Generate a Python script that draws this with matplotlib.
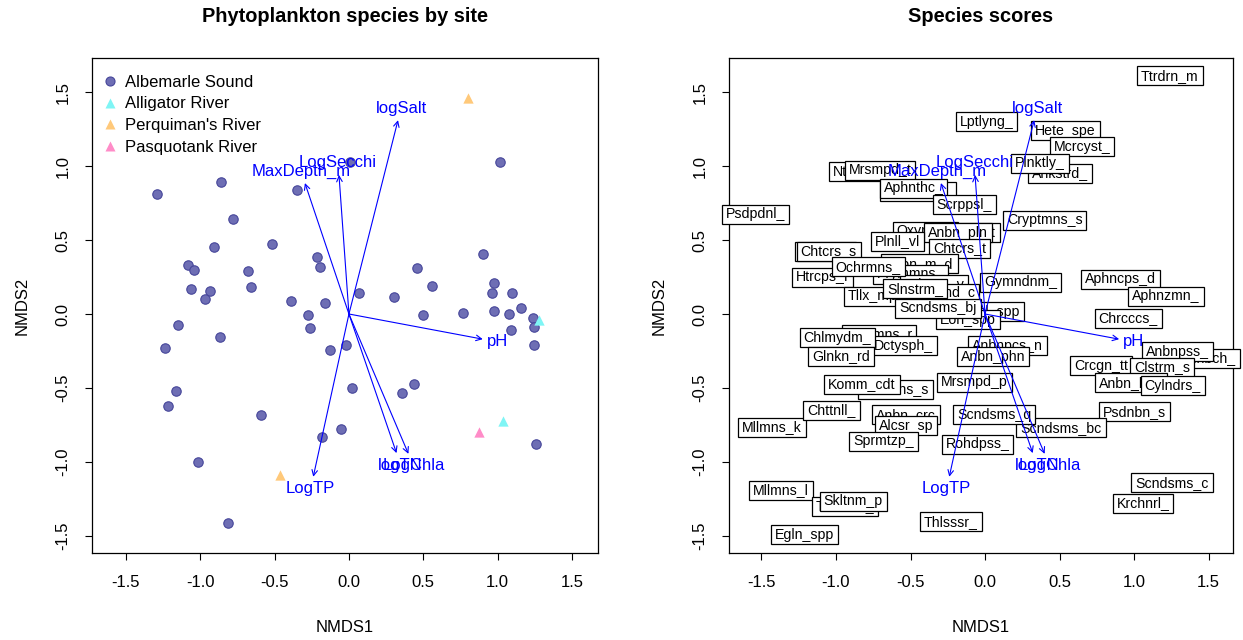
import matplotlib
matplotlib.use('Agg')
import matplotlib.pyplot as plt
from matplotlib.lines import Line2D
from matplotlib.patches import Rectangle
import numpy as np

plt.rcParams['font.family'] = ['Liberation Sans', 'DejaVu Sans']
plt.rcParams['axes.unicode_minus'] = False

# NMDS site scores, grouped by sampling area
albemarle_x = [-1.29, -0.86, -0.78, -0.35, -0.91, -0.52, -1.08, -1.04, -0.68, -0.215,
               -0.195, -1.06, -0.935, -0.97, -0.66, -0.39, -0.16, -0.275, -0.26, -1.15,
               -0.87, 1.015, 0.90, 0.46, 0.56, 0.975, 0.07, 0.30, 0.96, 1.095,
               1.16, 0.50, 0.77, 0.975, 1.075, 1.235, 1.245, 1.09, -1.24, -0.13,
               -0.02, -1.16, -1.22, -0.59, -0.055, -0.18, -1.015, -0.81, 0.02, 0.36,
               0.44, 1.245, 1.26, 0.007]
albemarle_y = [0.81, 0.89, 0.64, 0.84, 0.45, 0.47, 0.33, 0.30, 0.29, 0.385,
               0.32, 0.17, 0.155, 0.10, 0.18, 0.09, 0.075, -0.01, -0.095, -0.075,
               -0.155, 1.03, 0.405, 0.31, 0.19, 0.21, 0.14, 0.115, 0.14, 0.14,
               0.04, -0.01, 0.01, 0.02, 0.0, -0.03, -0.09, -0.11, -0.23, -0.245,
               -0.21, -0.52, -0.62, -0.68, -0.78, -0.83, -1.0, -1.41, -0.50, -0.535,
               -0.47, -0.21, -0.88, 1.03]
alligator_x = [1.28, 1.035]
alligator_y = [-0.04, -0.72]
perquimans_x = [0.80, -0.465]
perquimans_y = [1.46, -1.09]
pasquotank_x = [0.875]
pasquotank_y = [-0.80]

site_names = ['Albemarle Sound', 'Alligator River', "Perquiman's River", 'Pasquotank River']

# envfit vectors
env_names = ['logSalt', 'LogSecchi', 'MaxDepth_m', 'pH', 'LogTP', 'logTN', 'LogChla']
env_x = [0.33, -0.067, -0.296, 0.90, -0.24, 0.32, 0.40]
env_y = [1.31, 0.94, 0.885, -0.17, -1.10, -0.94, -0.945]

# species scores (drawing order: later labels sit on top)
sp_names = ['Ntzsch_p', 'Mrsmpd_t', 'Aphnsmn_', 'Aphnthc_', 'Lptlyng_', 'Ttrdrn_m',
            'Ankstrd_', 'Hete_spe', 'Mcrcyst_', 'Plnktly_', 'Scrppsl_', 'Cryptmns_s',
            'Psdpdnl_', 'Oxyrrhs_', 'Anbn_plnt', 'Anbn_pln', 'Plnll_vl', 'Chtcrs_t',
            'Chtcrs_r', 'Chtcrs_s', 'Htrcps_f', 'Anbn_m_d', 'Prymmns_', 'Pdstrm_v',
            'Mnrphd_c', 'Tllx_mpl', 'Ochrmns_', 'Slnstrm_', 'Nvcl_spp', 'Eoh_spp',
            'Scndsms_bj', 'Gymndnm_', 'Aphncps_d', 'Aphnzmn_', 'Chrcccs_', 'Psdnbch_',
            'Anbnpss_', 'Crcgn_tt', 'Clstrm_s', 'Anbn_lmn', 'Cylndrs_', 'Psdnbn_s',
            'Anbnpcs_n', 'Anbn_phn', 'Mrsmpd_p', 'Scndsms_bc', 'Scndsms_q', 'Rohdpss_',
            'Scndsms_c', 'Krchnrl_', 'Thlsssr_', 'Egln_spp', 'Mllmns_l', 'Trchlmn_',
            'Skltnm_p', 'Mllmns_k', 'Chttnll_', 'Prmmns_s', 'Komm_cdt', 'Anbn_crc',
            'Alcsr_sp', 'Sprmtzp_', 'Crptmns_r', 'Dctysph_', 'Chlmydm_', 'Glnkn_rd']
sp_x = [-0.825, -0.705, -0.45, -0.48, 0.01, 1.24,
        0.50, 0.54, 0.65, 0.37, -0.14, 0.40,
        -1.54, -0.40, -0.14, -0.18, -0.59, -0.17,
        -1.07, -1.05, -1.09, -0.44, -0.50, -0.34,
        -0.275, -0.745, -0.785, -0.47, 0.04, -0.115,
        -0.315, 0.24, 0.91, 1.215, 0.96, 1.475,
        1.29, 0.78, 1.19, 0.98, 1.26, 1.00,
        0.15, 0.055, -0.07, 0.51, 0.06, -0.05,
        1.255, 1.06, -0.23, -1.21, -1.37, -0.94,
        -0.885, -1.43, -1.03, -0.60, -0.825, -0.53,
        -0.53, -0.68, -0.71, -0.55, -0.99, -0.965]
sp_y = [0.96, 0.97, 0.83, 0.85, 1.30, 1.61,
        0.95, 1.24, 1.13, 1.02, 0.74, 0.635,
        0.675, 0.56, 0.55, 0.55, 0.49, 0.445,
        0.42, 0.425, 0.25, 0.34, 0.27, 0.20,
        0.14, 0.12, 0.32, 0.17, 0.015, -0.04,
        0.04, 0.215, 0.235, 0.12, -0.03, -0.30,
        -0.255, -0.35, -0.36, -0.465, -0.485, -0.66,
        -0.215, -0.29, -0.46, -0.77, -0.68, -0.88,
        -1.14, -1.28, -1.405, -1.49, -1.19, -1.30,
        -1.265, -0.765, -0.65, -0.51, -0.475, -0.68,
        -0.755, -0.86, -0.14, -0.215, -0.16, -0.285]

ticks = [-1.5, -1.0, -0.5, 0.0, 0.5, 1.0, 1.5]
tick_labels = ['-1.5', '-1.0', '-0.5', '0.0', '0.5', '1.0', '1.5']

W, H = 1243, 640
DPI = 100
fig = plt.figure(figsize=(W / DPI, H / DPI), dpi=DPI)
ax1 = fig.add_axes([92 / W, 1 - 553 / H, 506 / W, 495 / H])
ax2 = fig.add_axes([729 / W, 1 - 553 / H, 504 / W, 495 / H])
renderer = fig.canvas.get_renderer()


def setup_axes(ax, xlim):
    ax.set_xlim(*xlim)
    ax.set_ylim(-1.615, 1.730)
    ax.set_xticks(ticks)
    ax.set_xticklabels(tick_labels)
    ax.set_yticks(ticks)
    ax.set_yticklabels(tick_labels, rotation=90, va='center')
    ax.tick_params(direction='out', length=5, width=0.8, labelsize=12, color='black')
    ax.tick_params(axis='x', pad=10.5)
    ax.tick_params(axis='y', pad=10.5)
    for s in ax.spines.values():
        s.set_linewidth(0.9)


def px_scale(ax):
    sx = ax.bbox.width / np.diff(ax.get_xlim())[0]
    sy = ax.bbox.height / np.diff(ax.get_ylim())[0]
    return sx, sy


def draw_env(ax):
    sx, sy = px_scale(ax)
    fs_px = 12 * DPI / 72
    for name, x, y in zip(env_names, env_x, env_y):
        ax.annotate('', xy=(x, y), xytext=(0, 0), zorder=300,
                    arrowprops=dict(arrowstyle='->,head_length=0.4,head_width=0.2',
                                    color='blue', lw=0.8, shrinkA=0, shrinkB=0))
        t = ax.text(0, 0, name, fontsize=12, color='blue', ha='center', va='center',
                    zorder=301, clip_on=False)
        w = t.get_window_extent(renderer).width
        h = 0.96 * fs_px
        # push the label beyond the arrow head, like vegan's ordiArrowTextXY
        offx = np.sign(x) * (w / 2 + h / 4)
        offy = 0.75 * h * np.sign(y)
        b = (y * sy) / (x * sx)
        move = offy / b
        if np.isfinite(move) and abs(move) <= abs(offx):
            offx = move
        else:
            offy = b * offx
        t.set_position((x + offx / sx, y + offy / sy))


# left: sites
setup_axes(ax1, (-1.728, 1.675))
ax1.scatter(albemarle_x, albemarle_y, s=46, marker='o', facecolor='#6E6EB4',
            edgecolor='#46469A', linewidth=0.8, zorder=5)
ax1.scatter(alligator_x, alligator_y, s=55, marker='^', color='#7FF5F5', linewidth=0, zorder=5)
ax1.scatter(perquimans_x, perquimans_y, s=55, marker='^', color='#FFC97A', linewidth=0, zorder=5)
ax1.scatter(pasquotank_x, pasquotank_y, s=55, marker='^', color='#FF8CC8', linewidth=0, zorder=5)
draw_env(ax1)

handles = [
    Line2D([], [], ls='none', marker='o', ms=6.5, mfc='#6E6EB4', mec='#46469A', mew=0.8),
    Line2D([], [], ls='none', marker='^', ms=7, mfc='#7FF5F5', mec='none'),
    Line2D([], [], ls='none', marker='^', ms=7, mfc='#FFC97A', mec='none'),
    Line2D([], [], ls='none', marker='^', ms=7, mfc='#FF8CC8', mec='none'),
]
ax1.legend(handles, site_names, loc='upper left', bbox_to_anchor=(0.023, 0.966),
           frameon=False, fontsize=12, handlelength=0.8, handletextpad=0.5,
           labelspacing=0.4, borderpad=0, borderaxespad=0)

# right: species labels in white boxes
setup_axes(ax2, (-1.718, 1.664))
sx, sy = px_scale(ax2)
fs = 10.2
fs_px = fs * DPI / 72
for i, (name, x, y) in enumerate(zip(sp_names, sp_x, sp_y)):
    t = ax2.text(x, y, name, fontsize=fs, ha='center', va='center',
                 zorder=10 + 2 * i + 1, clip_on=False)
    w = t.get_window_extent(renderer).width
    bw = (w + 0.555 * fs_px) / sx
    bh = 1.34 * fs_px / sy
    ax2.add_patch(Rectangle((x - bw / 2, y - bh / 2), bw, bh, facecolor='white',
                            edgecolor='black', lw=0.9, zorder=10 + 2 * i, clip_on=False))
draw_env(ax2)

# titles and axis labels
for ax, title in [(ax1, 'Phytoplankton species by site'), (ax2, 'Species scores')]:
    pos = ax.get_position()
    cx = (pos.x0 + pos.x1) / 2
    cy = (pos.y0 + pos.y1) / 2
    fig.text(cx, 1 - 17 / H, title, fontsize=14.4, fontweight='bold', ha='center', va='center')
    fig.text(cx, 1 - 628 / H, 'NMDS1', fontsize=12, ha='center', va='center')
    fig.text(pos.x0 - 70 / W, cy, 'NMDS2', fontsize=12, rotation=90, ha='center', va='center')

fig.savefig('out.png', dpi=DPI)
